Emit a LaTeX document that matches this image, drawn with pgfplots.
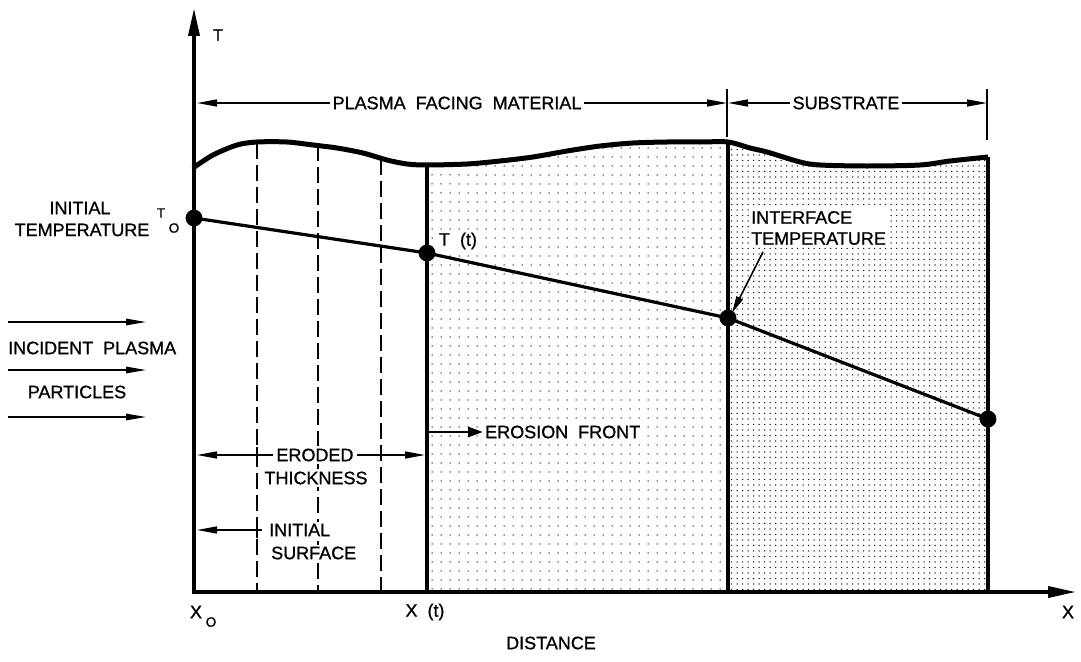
\documentclass[border=0pt]{standalone}
\usepackage{fontspec}
\setmainfont[WordSpace=2.0,FakeBold=0.9]{Liberation Sans}
\usepackage{pgfplots}
\pgfplotsset{compat=1.18}
\usetikzlibrary{arrows.meta,patterns.meta}
\begin{document}
\begin{tikzpicture}[font=\fontsize{18}{21}\selectfont]
\useasboundingbox (0,0) rectangle (1081pt,661pt);
\begin{axis}[at={(0,0)},anchor=south west,scale only axis,width=1081pt,height=661pt,
  xmin=0,xmax=1081,ymin=0,ymax=661,y dir=reverse,hide axis,clip=false]
% shaded regions
\addplot[draw=none,pattern={Dots[distance=9pt,radius=0.75pt]},pattern color=black!85]
  coordinates {(427,592) (427,165) (467,164) (500,161) (533,157) (567,151) (600,146) (633,143) (667,142) (700,142) (728,142) (728,592)} -- cycle;
\addplot[draw=none,pattern={Dots[distance=5.5pt,radius=0.75pt]},pattern color=black!90]
  coordinates {(728,592) (728,142) (750,148) (767,152) (800,162) (820,165) (867,166) (920,165) (950,161) (988,157) (988,592)} -- cycle;
% dashed lines
\addplot[line width=1.3pt,dash pattern=on 16pt off 6pt] coordinates {(257,143) (257,592)};
\addplot[line width=1.3pt,dash pattern=on 16pt off 6pt] coordinates {(318,145) (318,592)};
\addplot[line width=1.3pt,dash pattern=on 16pt off 6pt] coordinates {(381,159) (381,592)};
% boundaries
\addplot[line width=3.3pt] coordinates {(427,165) (427,592)};
\addplot[line width=3.3pt] coordinates {(728,142) (728,592)};
\addplot[line width=3.3pt] coordinates {(988,157) (988,592)};
% surface curve
\addplot[line width=5pt,smooth,tension=0.5] coordinates {(193,168) (213,155) (237,145) (257,142) (287,142) (313,145) (337,148) (363,153) (387,160) (407,164) (427,165) (467,164) (500,161) (533,157) (567,151) (600,146) (633,143) (667,142) (700,142) (728,142) (750,148) (767,152) (800,162) (820,165) (867,166) (920,165) (950,161) (988,157)};
% axes
\addplot[line width=3.6pt,-{Triangle[length=28pt,width=11pt]}] coordinates {(194,593) (194,8)};
\addplot[line width=3.6pt,-{Triangle[length=28pt,width=11pt]}] coordinates {(192,592) (1076,592)};
% temperature profile
\addplot[line width=3.2pt,mark=*,mark size=6.8pt,mark options={solid}] coordinates {(194,218) (427,253) (728,318) (988,419)};
% top dimension lines
\addplot[line width=1.4pt,{Triangle[length=20pt,width=7pt]}-{Triangle[length=20pt,width=7pt]}] coordinates {(197,103) (727,103)};
\addplot[line width=1.4pt,{Triangle[length=20pt,width=7pt]}-{Triangle[length=20pt,width=7pt]}] coordinates {(728,103) (987,103)};
\addplot[line width=1.3pt] coordinates {(727,89) (727,137)};
\addplot[line width=1.3pt] coordinates {(987,89) (987,140)};
% incident arrows
\addplot[line width=1.4pt,-{Triangle[length=20pt,width=6.5pt]}] coordinates {(8,322) (146,322)};
\addplot[line width=1.4pt,-{Triangle[length=20pt,width=6.5pt]}] coordinates {(8,370) (146,370)};
\addplot[line width=1.4pt,-{Triangle[length=20pt,width=6.5pt]}] coordinates {(8,417) (146,417)};
% eroded thickness
\addplot[line width=1.4pt,{Triangle[length=20pt,width=7pt]}-{Triangle[length=20pt,width=7pt]}] coordinates {(197,455) (425,455)};
\addplot[line width=1.4pt,-{Triangle[length=20pt,width=7pt]}] coordinates {(262,530) (197,530)};
\addplot[line width=1.3pt] coordinates {(257,447) (257,463)};
\addplot[line width=1.3pt] coordinates {(257,522) (257,538)};
% erosion front arrow
\addplot[line width=2.8pt,-{Triangle[length=15pt,width=10pt]}] coordinates {(429,432) (483,432)};
% interface arrow
\addplot[line width=1.6pt,-{Triangle[length=17pt,width=7pt]}] coordinates {(763,252) (732,313)};
% labels
\node[fill=white,inner sep=3pt] at (axis cs:457,103) {PLASMA FACING MATERIAL};
\node[fill=white,inner sep=3pt] at (axis cs:846,103) {SUBSTRATE};
\node at (axis cs:218,35) {\fontsize{16}{16}\selectfont T};
\node at (axis cs:80,208) {INITIAL};
\node at (axis cs:82,230) {TEMPERATURE};
\node at (axis cs:161,213) {\fontsize{13.5}{13}\selectfont T};
\node at (axis cs:174,228) {\fontsize{13.5}{13}\selectfont O};
\node[anchor=west,inner sep=0pt] at (axis cs:8,348) {INCIDENT PLASMA};
\node at (axis cs:77,392) {PARTICLES};
\node[fill=white,inner sep=2pt] at (axis cs:458,241) {T (t)};
\node[fill=white,inner sep=2pt,anchor=west,align=left] at (axis cs:749,228) {INTERFACE\\TEMPERATURE};
\node[fill=white,inner sep=2pt,anchor=west] at (axis cs:483,432) {EROSION FRONT};
\node[fill=white,inner sep=3pt] at (axis cs:315,455) {ERODED};
\node[fill=white,inner sep=3pt] at (axis cs:316,478) {THICKNESS};
\node[fill=white,inner sep=2pt,anchor=west] at (axis cs:267,530) {INITIAL};
\node[fill=white,inner sep=2pt,anchor=west] at (axis cs:269,553) {SURFACE};
\node at (axis cs:196,612) {X};
\node at (axis cs:211,622) {\fontsize{13.5}{13}\selectfont O};
\node at (axis cs:425,612) {X (t)};
\node at (axis cs:1068,612) {X};
\node at (axis cs:551,643) {DISTANCE};
\end{axis}
\end{tikzpicture}
\end{document}
